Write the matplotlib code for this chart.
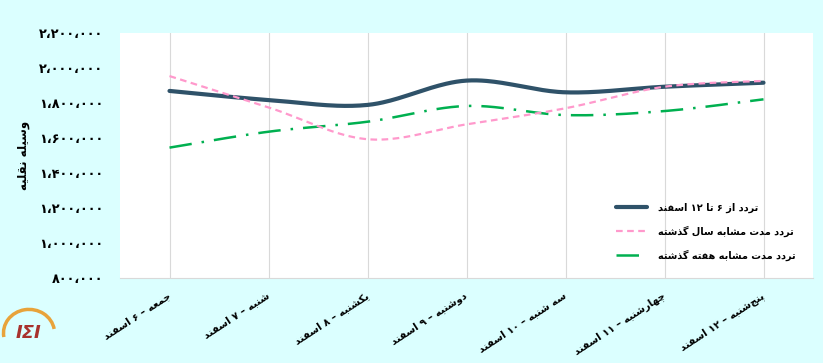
import re
import unicodedata
import numpy as np
import matplotlib
matplotlib.use('Agg')
import matplotlib.pyplot as plt
from matplotlib.patches import Arc

# data
days = ['جمعه – ۶ اسفند', 'شنبه – ۷ اسفند', 'یکشنبه – ۸ اسفند', 'دوشنبه – ۹ اسفند',
        'سه شنبه – ۱۰ اسفند', 'چهارشنبه – ۱۱ اسفند', 'پنج\u200cشنبه – ۱۲ اسفند']
this_week = [1869000, 1817000, 1789000, 1928000, 1861000, 1893000, 1916000]
last_year = [1954000, 1775000, 1593000, 1678000, 1770000, 1893000, 1926000]
last_week = [1545000, 1636000, 1693000, 1783000, 1731000, 1754000, 1821000]
series_names = ['تردد از ۶ تا ۱۲ اسفند', 'تردد مدت مشابه سال گذشته', 'تردد مدت مشابه هفته گذشته']
y_ticks = [800000, 1000000, 1200000, 1400000, 1600000, 1800000, 2000000, 2200000]
y_title = 'وسیله نقلیه'

RIGHT_ONLY = set('اآأإدذرزژوؤة')
FA_DIGITS = '۰۱۲۳۴۵۶۷۸۹'


def forms(ch):
    try:
        name = unicodedata.name(ch)
    except ValueError:
        return None
    if not name.startswith('ARABIC LETTER'):
        return None
    out = {}
    for f in ('ISOLATED', 'FINAL', 'INITIAL', 'MEDIAL'):
        try:
            out[f] = unicodedata.lookup(name + ' ' + f + ' FORM')
        except KeyError:
            pass
    return out


def joins_next(ch):
    f = forms(ch)
    return bool(f) and ch not in RIGHT_ONLY and 'INITIAL' in f


def fa(text):
    """Shape Persian text and put it in visual (left to right) order."""
    out = []
    for i, ch in enumerate(text):
        f = forms(ch)
        if not f:
            if ch != '\u200c':
                out.append(ch)
            continue
        prev = text[i - 1] if i > 0 else ''
        nxt = text[i + 1] if i + 1 < len(text) else ''
        jp = bool(prev) and joins_next(prev)
        jn = joins_next(ch) and bool(nxt) and bool(forms(nxt))
        key = 'MEDIAL' if jp and jn else 'FINAL' if jp else 'INITIAL' if jn else 'ISOLATED'
        out.append(f.get(key, f.get('ISOLATED', ch)))
    vis = ''.join(out)[::-1]
    return re.sub('[0-9۰-۹]+', lambda m: m.group()[::-1], vis)


def fa_num(v):
    s = f'{v:,}'.replace(',', '،')
    return ''.join(FA_DIGITS[int(c)] if c.isdigit() else c for c in s)


def smooth(ys, n=40):
    # Excel style smoothed line (Catmull-Rom as Bezier)
    p = np.column_stack([np.arange(len(ys)), np.array(ys, float)])
    p = np.vstack([p[0], p, p[-1]])
    t = np.linspace(0, 1, n)[:, None]
    segs = []
    for i in range(1, len(p) - 2):
        p0, p1, p2, p3 = p[i - 1], p[i], p[i + 1], p[i + 2]
        b1 = p1 + (p2 - p0) / 6
        b2 = p2 - (p3 - p1) / 6
        segs.append((1 - t) ** 3 * p1 + 3 * (1 - t) ** 2 * t * b1 + 3 * (1 - t) * t ** 2 * b2 + t ** 3 * p2)
    s = np.vstack(segs)
    return s[:, 0], s[:, 1]


plt.rcParams['font.family'] = ['DejaVu Sans']
bg = '#DBFFFF'

fig = plt.figure(figsize=(8.23, 3.63), dpi=100, facecolor=bg)
ax = fig.add_axes([120 / 823, 1 - 278 / 363, 693 / 823, 245 / 363])
ax.set_facecolor('white')

x = np.arange(len(days))
ax.plot(*smooth(this_week), color='#2F5269', lw=3, solid_capstyle='round', label=fa(series_names[0]), zorder=3)
ax.plot(*smooth(last_year), color='#FF99CC', lw=1.6, dashes=(3, 2), label=fa(series_names[1]), zorder=4)
ax.plot(*smooth(last_week), color='#00B050', lw=1.8, dashes=(9, 4, 1, 4), label=fa(series_names[2]), zorder=2)

ax.set_xlim(-0.5, len(days) - 0.5)
ax.set_ylim(y_ticks[0], y_ticks[-1])
ax.set_xticks(x)
ax.set_xticklabels([fa(d) for d in days], rotation=33, ha='right', va='center',
                   rotation_mode='anchor', fontsize=7.3, fontweight='bold')
ax.set_yticks(y_ticks)
ax.set_yticklabels([fa_num(v) for v in y_ticks], fontsize=9.3, fontweight='bold')
ax.tick_params(axis='both', length=0)
ax.tick_params(axis='y', pad=12)
ax.tick_params(axis='x', pad=12)
ax.grid(axis='x', color='#D9D9D9', lw=0.8)
for side in ('top', 'left', 'right'):
    ax.spines[side].set_visible(False)
ax.spines['bottom'].set_color('#D9D9D9')

fig.text(23 / 823, 1 - 155 / 363, fa(y_title), rotation=90, ha='center', va='center',
         fontsize=8.5, fontweight='bold')

ax.legend(loc='lower right', bbox_to_anchor=(0.98, 0.055), frameon=False, borderaxespad=0,
          prop={'size': 7, 'weight': 'bold'}, handlelength=3.2, handletextpad=1.1,
          labelspacing=1.3)

# logo
fig.patches.append(Arc((29 / 823, 1 - 333 / 363), 0.062, 0.13, theta1=20, theta2=200,
                       transform=fig.transFigure, color='#E8A33A', lw=2.5))
fig.text(29 / 823, 1 - 333 / 363, 'IΣI', ha='center', va='center', fontsize=13,
         fontweight='bold', style='italic', color='#A8322D')

fig.savefig('out.png', dpi=100, facecolor=bg)
